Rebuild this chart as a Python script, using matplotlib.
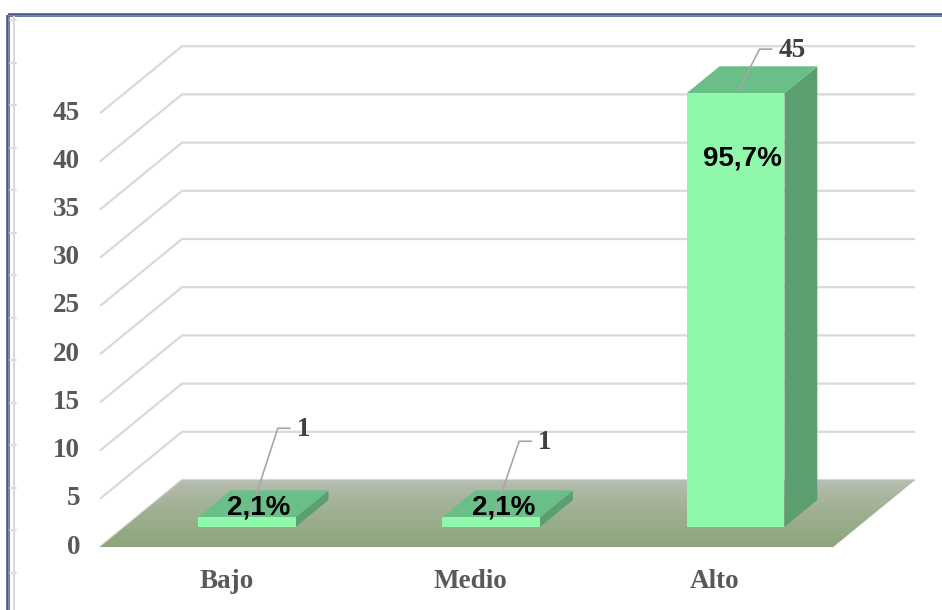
import matplotlib
matplotlib.use("Agg")
import matplotlib.pyplot as plt
from matplotlib.patches import Polygon
import numpy as np

categories = ["Bajo", "Medio", "Alto"]
counts = [1, 1, 45]
percents = ["2,1%", "2,1%", "95,7%"]
y_ticks = [0, 5, 10, 15, 20, 25, 30, 35, 40, 45]

# label placement (pixel offsets from bar top-front centre)
label_offsets = [(50, -88), (47, -75), (43, -43)]

# fake 3D projection, in pixel units of the canvas
X0, Y0 = 100, 547        # front-left corner of floor
CAT_W = 244.4            # width of one category
DEPTH_X, DEPTH_Y = 82, 67
UNIT = 9.64              # pixels per count
BAR_W = 0.4              # bar width as fraction of category
D0, D1 = 0.3, 0.7        # bar depth range


def proj(x, v, d):
    """x in category units, v in counts, d in depth (0 front, 1 back)"""
    return X0 + x * CAT_W + d * DEPTH_X, Y0 - v * UNIT - d * DEPTH_Y


fig = plt.figure(figsize=(9.42, 6.10), dpi=100)
ax = fig.add_axes([0, 0, 1, 1])
ax.set_xlim(0, 942)
ax.set_ylim(610, 0)
ax.axis("off")

serif = ["Liberation Serif", "DejaVu Serif"]

# gridlines (front diagonal + back horizontal)
n_cat = len(categories)
for t in y_ticks:
    p0 = proj(0, t, 0)
    p1 = proj(0, t, 1)
    p2 = proj(n_cat, t, 1)
    ax.plot([p0[0], p1[0], p2[0]], [p0[1], p1[1], p2[1]],
            color="#d9d9d9", lw=1.6, zorder=1, solid_capstyle="butt")
    ax.text(p0[0] - 20, p0[1], str(t), ha="right", va="center",
            fontsize=19.5, fontweight="bold", family=serif, color="#595959")

# floor with gradient
floor = [proj(0, 0, 0), proj(n_cat, 0, 0), proj(n_cat, 0, 1), proj(0, 0, 1)]
floor_patch = Polygon(floor, closed=True, facecolor="none", edgecolor="none")
ax.add_patch(floor_patch)
top_c = np.array([0.73, 0.75, 0.71])
bot_c = np.array([0.55, 0.65, 0.48])
g = np.linspace(0, 1, 100) ** 0.7
grad = top_c[None, :] * (1 - g[:, None]) + bot_c[None, :] * g[:, None]
grad = np.repeat(grad[:, None, :], 2, axis=1)
fy_top = floor[2][1]
fy_bot = floor[0][1]
im = ax.imshow(grad, extent=(floor[0][0], floor[2][0], fy_bot, fy_top),
               aspect="auto", zorder=2, interpolation="bilinear")
im.set_clip_path(floor_patch)

# bars
front_c = "#8ff8ab"
top_face_c = "#6abf88"
side_c = "#5b9f71"
for i, v in enumerate(counts):
    xl = i + 0.5 - BAR_W / 2
    xr = i + 0.5 + BAR_W / 2
    front = [proj(xl, 0, D0), proj(xr, 0, D0), proj(xr, v, D0), proj(xl, v, D0)]
    top = [proj(xl, v, D0), proj(xr, v, D0), proj(xr, v, D1), proj(xl, v, D1)]
    side = [proj(xr, 0, D0), proj(xr, 0, D1), proj(xr, v, D1), proj(xr, v, D0)]
    ax.add_patch(Polygon(side, closed=True, facecolor=side_c, edgecolor="none", zorder=3))
    ax.add_patch(Polygon(top, closed=True, facecolor=top_face_c, edgecolor="none", zorder=3))
    ax.add_patch(Polygon(front, closed=True, facecolor=front_c, edgecolor="none", zorder=3))

    # percent label
    h = v if v < 5 else v - 7.3
    px, py = proj(i + 0.5, h, 0.45 if v < 5 else 0.38)
    ax.text(px, py, percents[i], ha="center", va="center", fontsize=20,
            fontweight="bold", family="Liberation Sans", color="black", zorder=6)

    # count label with leader line
    sx, sy = proj(i + 0.5, v, D0)
    lx, ly = sx + label_offsets[i][0], sy + label_offsets[i][1]
    ax.plot([sx + 3, lx - 19, lx - 7], [sy - 3, ly - 1, ly - 1],
            color="#a6a6a6", lw=1.2, zorder=5)
    ax.text(lx, ly, str(v), ha="left", va="center", fontsize=19.5,
            fontweight="bold", family=serif, color="#404040", zorder=6)

    # category label
    cx, cy = proj(i + 0.5, 0, 0)
    ax.text(cx + 4, 582, categories[i], ha="center", va="center", fontsize=19.5,
            fontweight="bold", family=serif, color="#595959")

# frame and ruler on the left
ax.plot([7.5, 942], [15, 15], color="#4a5a88", lw=2.6, solid_capstyle="butt")
ax.plot([7.5, 7.5], [15, 610], color="#4a5a88", lw=2.6, solid_capstyle="butt")
ax.plot([7.5, 942], [15, 15], color="#8e9cc0", lw=0.5)
ax.plot([7.5, 7.5], [15, 610], color="#8e9cc0", lw=0.5)
ax.plot([14, 14], [17, 610], color="#d9d9d9", lw=1.5)
for ty in np.arange(20, 610, 42.5):
    ax.plot([10, 16], [ty, ty], color="#d9d9d9", lw=1.2)

fig.savefig("out.png", dpi=100)
